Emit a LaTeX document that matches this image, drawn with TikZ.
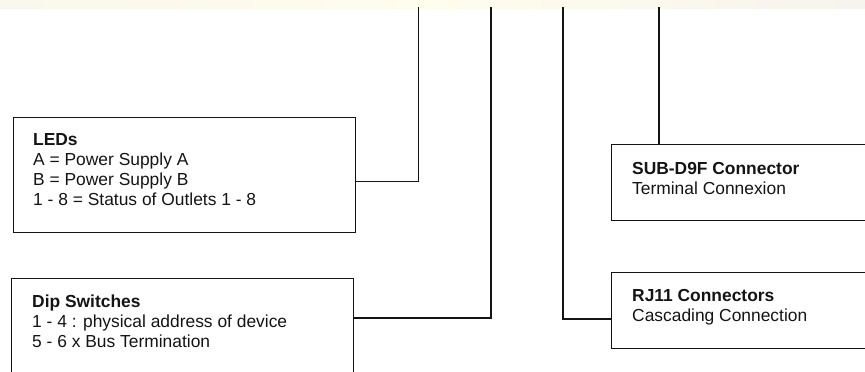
\documentclass[tikz,border=0pt]{standalone}
\usepackage{fontspec}
\setmainfont{Liberation Sans}
\definecolor{creamL}{RGB}{250,247,236}
\definecolor{creamM}{RGB}{255,253,236}
\definecolor{creamR}{RGB}{247,243,238}
\definecolor{ink}{RGB}{20,20,20}
\begin{document}
\begin{tikzpicture}[x=1pt,y=-1pt,
  box/.style={draw=ink,line width=1.3pt,rectangle,inner sep=0pt,anchor=north west},
  txt/.style={anchor=north west,inner sep=0pt,align=left,text=ink,
    font=\fontsize{17.4}{20}\selectfont},
  wire/.style={draw=ink,line width=1.3pt}]
\useasboundingbox (0,0) rectangle (865,372);
\begin{scope}
\clip (0,0) rectangle (865,372);
\shade[left color=creamL,right color=creamR,middle color=creamM] (0,0) rectangle (865,8);
% boxes
\node[box,minimum width=342pt,minimum height=115pt] (leds) at (13,117) {};
\node[box,minimum width=342pt,minimum height=130pt] (dip) at (11,278) {};
\node[box,minimum width=270pt,minimum height=76pt] (sub) at (611,144) {};
\node[box,minimum width=270pt,minimum height=76pt] (rj) at (611,272) {};
% texts
\node[txt] (ledsT) at (33,133.5) {\textbf{LEDs}\\A = Power Supply A\\B = Power Supply B\\1 - 8 = Status of Outlets 1 - 8};
\node[txt] (dipT) at (32,295) {\textbf{Dip Switches}\\1 - 4 : physical address of device\\5 - 6 x Bus Termination};
\node[txt] (subT) at (632,162) {\textbf{SUB-D9F Connector}\\Terminal Connexion};
\node[txt] (rjT) at (632,289) {\textbf{RJ11 Connectors}\\Cascading Connection};
% connector tops
\coordinate (t1) at (418.5,7);
\coordinate (t2) at (491,7);
\coordinate (t3) at (563,7);
\coordinate (t4) at (659,7);
\draw[wire] (t1) |- ([yshift=-6.5pt]leds.east);
\draw[wire] (t2) |- ([yshift=-2pt]dip.north east |- 0,316);
\draw[wire] (t3) |- (rj.west |- 0,319);
\draw[wire] (t4) -- (t4 |- sub.north);
\end{scope}
\end{tikzpicture}
\end{document}
